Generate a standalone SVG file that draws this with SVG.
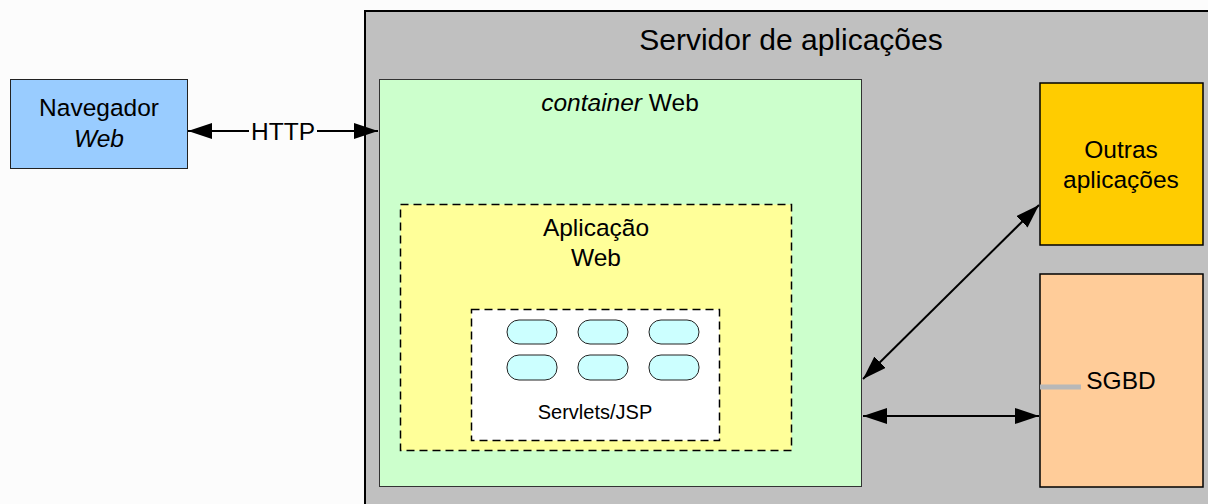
<svg xmlns="http://www.w3.org/2000/svg" width="1208" height="504" viewBox="0 0 1208 504">
<defs>
<marker id="ahb" viewBox="0 0 24 16" refX="24" refY="8" markerWidth="24" markerHeight="16" markerUnits="userSpaceOnUse" orient="auto-start-reverse"><path d="M0,0 L24,8 L0,16 z" fill="#000"/></marker>
</defs>
<style>
text{font-family:"Liberation Sans",Arial,sans-serif;fill:#000;text-anchor:middle}
.t20{font-size:24.5px}
.box{stroke:#000;stroke-width:1.5}
.dash{stroke:#000;stroke-width:1.5;stroke-dasharray:8,5}
.pill{fill:#ccffff;stroke:#222;stroke-width:1}
.conn{stroke:#000;stroke-width:2;fill:none}
</style>
<rect width="1208" height="504" fill="#fcfcfc"/>
<g id="servidor">
<rect x="365" y="11" width="850" height="500" fill="#c0c0c0" stroke="#000" stroke-width="2"/>
<text x="791" y="50" font-size="30">Servidor de aplicações</text>
</g>
<g id="container">
<rect x="379.5" y="79.5" width="482" height="407" fill="#ccffcc" stroke="#333" stroke-width="1"/>
<text x="620" y="111" class="t20"><tspan font-style="italic">container</tspan> Web</text>
</g>
<g id="aplicacao">
<rect x="400.5" y="204.5" width="391" height="246" fill="#ffff99" class="dash"/>
<text x="596" y="236" class="t20">Aplicação</text>
<text x="596" y="266" class="t20">Web</text>
</g>
<g id="servlets">
<rect x="471.5" y="309.5" width="248" height="131" fill="#fff" class="dash"/>
<rect x="507" y="320" width="50" height="24" rx="12" class="pill"/>
<rect x="578" y="320" width="50" height="24" rx="12" class="pill"/>
<rect x="649" y="320" width="50" height="24" rx="12" class="pill"/>
<rect x="507" y="355" width="50" height="25" rx="12" class="pill"/>
<rect x="578" y="355" width="50" height="25" rx="12" class="pill"/>
<rect x="649" y="355" width="50" height="25" rx="12" class="pill"/>
<text x="595" y="419" font-size="20">Servlets/JSP</text>
</g>
<g id="navegador">
<rect x="10.5" y="79.5" width="177" height="89" fill="#99ccff" stroke="#222" stroke-width="1"/>
<text x="99" y="116" class="t20">Navegador</text>
<text x="99" y="147" class="t20" font-style="italic">Web</text>
</g>
<g id="outras">
<rect x="1040" y="83" width="163" height="162" fill="#ffcc00" class="box"/>
<text x="1121" y="158" class="t20">Outras</text>
<text x="1121" y="188" class="t20">aplicações</text>
</g>
<g id="sgbd">
<rect x="1040" y="274" width="163" height="213" fill="#ffcc99" class="box"/>
<line x1="1040" y1="387" x2="1081" y2="387" stroke="#b8b8b8" stroke-width="5"/>
<text x="1121" y="389" class="t20">SGBD</text>
</g>
<g id="connectors">
<line x1="188" y1="131" x2="378" y2="131" class="conn" marker-start="url(#ahb)" marker-end="url(#ahb)"/>
<rect x="249" y="117" width="68" height="28" fill="#fcfcfc"/>
<text x="283" y="140" class="t20">HTTP</text>
<line x1="1039" y1="205" x2="863" y2="379" class="conn" stroke-width="1.5" marker-start="url(#ahb)" marker-end="url(#ahb)"/>
<line x1="863" y1="416" x2="1039" y2="416" class="conn" marker-start="url(#ahb)" marker-end="url(#ahb)"/>
</g>
</svg>
